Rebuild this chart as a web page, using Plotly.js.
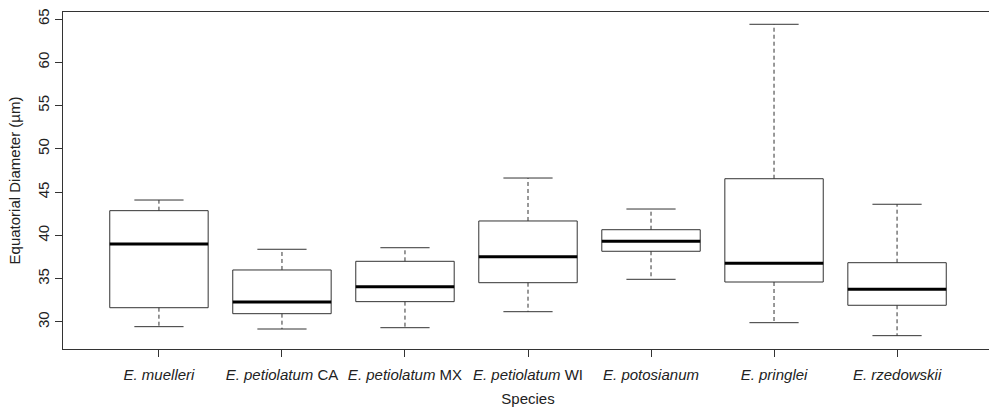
<!DOCTYPE html>
<html>
<head>
<meta charset="utf-8">
<script src="https://cdn.plot.ly/plotly-3.0.1.min.js"></script>
<style>
html,body{margin:0;padding:0;overflow:hidden;background:#fff;}
#chart{width:995px;height:408px;}
</style>
</head>
<body>
<div id="chart"></div>
<script>
// Data (µm)
const categories = ["E. muelleri","E. petiolatum CA","E. petiolatum MX","E. petiolatum WI","E. potosianum","E. pringlei","E. rzedowskii"];
const tickLabels = ["<i>E. muelleri</i>","<i>E. petiolatum</i> CA","<i>E. petiolatum</i> MX","<i>E. petiolatum</i> WI","<i>E. potosianum</i>","<i>E. pringlei</i>","<i>E. rzedowskii</i>"];
const lowerWhisker = [29.46, 29.19, 29.34, 31.19, 34.93, 29.92, 28.42];
const q1           = [31.65, 30.96, 32.35, 34.54, 38.17, 34.62, 31.93];
const median       = [39.01, 32.31, 34.08, 37.54, 39.32, 36.78, 33.78];
const q3           = [42.86, 36.01, 37.01, 41.67, 40.66, 46.55, 36.85];
const upperWhisker = [44.09, 38.40, 38.58, 46.63, 43.05, 64.39, 43.60];

const boxHalf = 0.4, capHalf = 0.2;
const pos = categories.map((c, i) => i + 1);

const rx = [], ry = [], mx = [], my = [], wx = [], wy = [], cx = [], cy = [];
pos.forEach((p, i) => {
  rx.push(p - boxHalf, p + boxHalf, p + boxHalf, p - boxHalf, p - boxHalf, null);
  ry.push(q1[i], q1[i], q3[i], q3[i], q1[i], null);
  mx.push(p - boxHalf, p + boxHalf, null);
  my.push(median[i], median[i], null);
  wx.push(p, p, null, p, p, null);
  wy.push(q3[i], upperWhisker[i], null, q1[i], lowerWhisker[i], null);
  cx.push(p - capHalf, p + capHalf, null, p - capHalf, p + capHalf, null);
  cy.push(upperWhisker[i], upperWhisker[i], null, lowerWhisker[i], lowerWhisker[i], null);
});

const lineCol = '#333333';
const traces = [
  {x: wx, y: wy, type: 'scatter', mode: 'lines', line: {color: lineCol, width: 1, dash: '4px,3px'}, hoverinfo: 'skip'},
  {x: cx, y: cy, type: 'scatter', mode: 'lines', line: {color: lineCol, width: 1}, hoverinfo: 'skip'},
  {x: rx, y: ry, type: 'scatter', mode: 'lines', line: {color: lineCol, width: 1}, hoverinfo: 'skip'},
  {x: mx, y: my, type: 'scatter', mode: 'lines', line: {color: '#000000', width: 3}, hoverinfo: 'skip'}
];

const font = {family: '"Liberation Sans", Arial, sans-serif', size: 15, color: '#222222'};
const layout = {
  width: 995, height: 408,
  margin: {l: 63, r: 2, t: 12, b: 59},
  showlegend: false,
  paper_bgcolor: '#fff', plot_bgcolor: '#fff',
  font: font,
  xaxis: {
    range: [0.22, 7.78],
    tickvals: pos, ticktext: tickLabels,
    ticks: 'outside', ticklen: 7, tickcolor: lineCol, tickwidth: 1,
    ticklabelstandoff: 5,
    showline: true, mirror: true, linecolor: lineCol, linewidth: 1,
    showgrid: false, zeroline: false,
    tickfont: font,
    title: {text: 'Species', font: font, standoff: 11}
  },
  yaxis: {
    range: [26.88, 65.81],
    tickvals: [30, 35, 40, 45, 50, 55, 60, 65],
    ticks: 'outside', ticklen: 7, tickcolor: lineCol, tickwidth: 1,
    tickangle: -90,
    showline: true, mirror: true, linecolor: lineCol, linewidth: 1,
    showgrid: false, zeroline: false,
    tickfont: font,
    title: {text: 'Equatorial Diameter (µm)', font: font, standoff: 10}
  }
};

Plotly.newPlot('chart', traces, layout, {staticPlot: true, displayModeBar: false});
</script>
</body>
</html>
